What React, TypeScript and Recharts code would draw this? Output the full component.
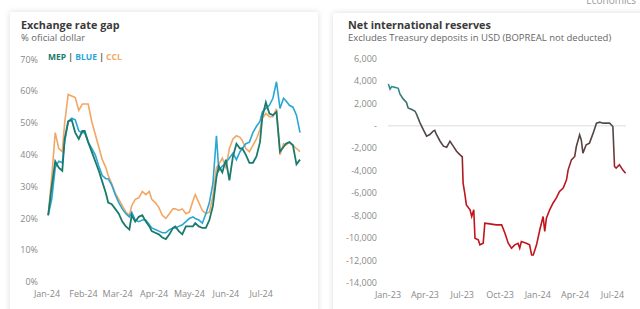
import React from "react";
import {
  LineChart,
  Line,
  XAxis,
  YAxis,
  ReferenceLine,
} from "recharts";

// exchange rate gap, days since Jan 1 2024
const gapDays = [
  1, 4, 7, 10, 13, 15, 18, 21, 24, 27, 30, 32, 35, 38, 41, 44, 47, 50, 52, 55,
  58, 61, 64, 67, 70, 72, 75, 78, 81, 84, 87, 89, 92, 95, 98, 101, 104, 107, 109, 112,
  115, 118, 121, 124, 126, 129, 132, 135, 138, 141, 144, 146, 149, 152, 155, 158, 161, 164, 166, 169,
  172, 175, 178, 181, 183, 186, 189, 192, 195, 198, 201, 203, 206, 209, 212, 215,
];
const mep = [
  21, 30, 38, 36, 35, 45, 50.5, 51, 47, 45,
  47.5, 47.5, 44, 41, 38, 35, 31.5, 28, 25, 24.5,
  23, 21.5, 19, 17.5, 16.5, 21, 19, 20.5, 21, 19,
  17.5, 16, 15.5, 15, 14, 13.5, 15, 17, 17.5, 16,
  15, 17.5, 17.5, 17.5, 18.5, 17.5, 17, 17, 19.5, 24,
  33, 36.5, 34.5, 38.5, 32, 39.5, 43.5, 42, 42, 40,
  37.5, 37.5, 39.5, 44, 52, 56.5, 53, 52.5, 53.5, 41,
  42.5, 43.5, 44, 43, 37, 38.5,
];
const blue = [
  21, 26, 36, 38, 37.5, 44, 50.5, 51.5, 51, 47.5,
  47, 47, 44, 42, 40, 36.5, 33.5, 32.5, 32.5, 30.5,
  27.5, 25, 23, 21.5, 20.5, 22, 19.5, 19, 19.5, 19.5,
  18, 17, 16.5, 16, 15.5, 15.5, 16.5, 17, 17, 17.5,
  18, 19, 20, 20.5, 20, 19.5, 18.5, 21.5, 25, 31,
  46, 35, 36.5, 37.5, 39, 40.5, 38.5, 41, 42, 43.5,
  44, 47, 49, 50.5, 53.5, 54.6, 55.6, 57.8, 63, 54.6,
  57.8, 57, 55.6, 55, 52.5, 47,
];
const ccl = [
  21, 33, 47, 42, 41, 50, 59, 58.5, 58, 54,
  56, 56, 56, 50.5, 46.5, 42.5, 38.5, 36, 33.5, 31,
  28, 26, 24, 22, 21, 24, 26, 26.5, 28.5, 27.5,
  28.5, 26, 25, 23.5, 21, 20, 21.5, 23, 23, 22.5,
  23, 21.5, 22, 25.5, 27.5, 25, 22.5, 21.5, 22, 27,
  36, 37, 39, 36, 42, 45, 46, 45.5, 44.5, 42,
  41, 43, 45, 48, 51.5, 53, 52, 52, 54.5, 40,
  43.5, 43, 44, 43, 42, 41,
];
const gapTicks = [0, 31, 60, 91, 121, 152, 182];
const gapTickLabels = ["Jan-24", "Feb-24", "Mar-24", "Apr-24", "May-24", "Jun-24", "Jul-24"];
const gapYTicks = [0, 10, 20, 30, 40, 50, 60, 70];

// net reserves, days since Jan 1 2023, USD mn
const reserveDays = [
  1, 5, 9, 17, 25, 29, 37, 45, 49, 58, 66, 70, 78, 86, 94, 102, 110, 114, 118, 127,
  135, 143, 151, 159, 167, 175, 179, 181, 183, 187, 191, 200, 204, 209, 212, 220, 224, 232, 236, 248,
  264, 277, 285, 293, 301, 309, 317, 321, 325, 337, 345, 350, 354, 362, 370, 378, 382, 386, 394, 402,
  410, 418, 427, 435, 439, 447, 455, 459, 467, 471, 475, 483, 491, 500, 508, 516, 524, 532, 540, 548,
  552, 556, 564, 572, 579,
];
const reserves = [
  3740, 3270, 3500, 3430, 3340, 2850, 2400, 2080, 1600, 1450,
  1300, 1000, 270, -330, -920, -770, -470, -400, -770, -1370,
  -1810, -1900, -1370, -1810, -2260, -2560, -2700, -2750, -5100, -6000,
  -7040, -7480, -8080, -7480, -10010, -10160, -10600, -10460, -8670, -8730,
  -8820, -8820, -9560, -10460, -10900, -10600, -10460, -10900, -10310, -10460,
  -10600, -11500, -11500, -10600, -9260, -8080, -9410, -8230, -7480, -6890,
  -6440, -5850, -5550, -4810, -3920, -3030, -2730, -1840, -800, -1250,
  -2430, -1690, -1540, -650, 240, 330, 240, 240, 240, -60,
  -3620, -3770, -3470, -3920, -4220,
];
const resTicks = [0, 90, 181, 273, 365, 456, 547];
const resTickLabels = ["Jan-23", "Apr-23", "Jul-23", "Oct-23", "Jan-24", "Apr-24", "Jul-24"];
const resYTicks = [-14000, -12000, -10000, -8000, -6000, -4000, -2000, 0, 2000, 4000, 6000];

const gapData = gapDays.map((d, i) => ({ day: d, mep: mep[i], blue: blue[i], ccl: ccl[i] }));
const resData = reserveDays.map((d, i) => ({ day: d, value: reserves[i] }));

const FONT = "'Open Sans', sans-serif";
const tickStyle = { fill: "#8a8a8a", fontSize: 9, fontFamily: FONT };

const card: React.CSSProperties = {
  position: "absolute",
  background: "#fff",
  boxShadow: "0 0 6px rgba(0,0,0,0.14)",
  borderRadius: 2,
};
const titleStyle: React.CSSProperties = {
  position: "absolute",
  top: 18,
  fontFamily: FONT,
  fontWeight: 700,
  fontSize: 10.8,
  lineHeight: "14px",
  color: "#3a3a3a",
  whiteSpace: "nowrap",
};
const subStyle: React.CSSProperties = {
  position: "absolute",
  top: 32,
  fontFamily: FONT,
  fontSize: 9.5,
  lineHeight: "12px",
  color: "#666",
  whiteSpace: "nowrap",
};

export default function App() {
  return (
    <div
      style={{
        position: "absolute",
        left: 0,
        top: 0,
        width: 640,
        height: 309,
        overflow: "hidden",
        background: "#fff",
      }}
    >
      <div style={{ position: "absolute", right: 4, top: -7, fontFamily: FONT, fontSize: 10, color: "#999" }}>
        Economics
      </div>
      <div style={{ ...card, left: 10, top: 12, width: 308, height: 320 }} />
      <div style={{ ...card, left: 333, top: 13, width: 320, height: 320 }} />

      <div style={{ ...titleStyle, left: 21 }}>Exchange rate gap</div>
      <div style={{ ...subStyle, left: 21 }}>% oficial dollar</div>
      <div
        style={{
          position: "absolute",
          left: 48,
          top: 51,
          fontFamily: FONT,
          fontWeight: 700,
          fontSize: 8.5,
          lineHeight: "12px",
          color: "#aaa",
          whiteSpace: "nowrap",
        }}
      >
        <span style={{ color: "#1a7a6c" }}>MEP</span>
        <span style={{ color: "#555" }}> | </span>
        <span style={{ color: "#2aa6d4" }}>BLUE</span>
        <span style={{ color: "#555" }}> | </span>
        <span style={{ color: "#f2a766" }}>CCL</span>
      </div>

      <div style={{ ...titleStyle, left: 348 }}>Net international reserves</div>
      <div style={{ ...subStyle, left: 348 }}>Excludes Treasury deposits in USD (BOPREAL not deducted)</div>

      <div style={{ position: "absolute", left: 0, top: 50 }}>
        <LineChart width={320} height={259} data={gapData} margin={{ top: 9.5, right: 20, bottom: 7, left: 0 }}>
          <XAxis
            dataKey="day"
            type="number"
            domain={[0, 215]}
            ticks={gapTicks}
            tickFormatter={(v) => gapTickLabels[gapTicks.indexOf(v)]}
            axisLine={false}
            tickLine={false}
            tickSize={0}
            tickMargin={9}
            height={20}
            tick={tickStyle}
            interval={0}
          />
          <YAxis
            domain={[0, 70]}
            ticks={gapYTicks}
            tickFormatter={(v) => `${v}%`}
            axisLine={false}
            tickLine={false}
            tickSize={0}
            tickMargin={9}
            width={47}
            tick={tickStyle}
            interval={0}
          />
          <Line dataKey="ccl" stroke="#f2a766" strokeWidth={1.6} dot={false} isAnimationActive={false} />
          <Line dataKey="blue" stroke="#2aa6d4" strokeWidth={1.6} dot={false} isAnimationActive={false} />
          <Line dataKey="mep" stroke="#1a7a6c" strokeWidth={1.8} dot={false} isAnimationActive={false} />
        </LineChart>
      </div>

      <div style={{ position: "absolute", left: 320, top: 50 }}>
        <LineChart width={320} height={259} data={resData} margin={{ top: 8.5, right: 14, bottom: 6, left: 0 }}>
          <defs>
            <linearGradient id="resGrad" x1="0" y1="0" x2="0" y2="1">
              <stop offset="0%" stopColor="#2a9494" />
              <stop offset="10%" stopColor="#3d7474" />
              <stop offset="24%" stopColor="#4c4c4c" />
              <stop offset="38%" stopColor="#5a4040" />
              <stop offset="50%" stopColor="#a81e24" />
              <stop offset="58%" stopColor="#c1141c" />
              <stop offset="100%" stopColor="#c1141c" />
            </linearGradient>
          </defs>
          <XAxis
            dataKey="day"
            type="number"
            domain={[0, 580]}
            ticks={resTicks}
            tickFormatter={(v) => resTickLabels[resTicks.indexOf(v)]}
            axisLine={false}
            tickLine={false}
            tickSize={0}
            tickMargin={9}
            height={20}
            tick={tickStyle}
            interval={0}
          />
          <YAxis
            domain={[-14000, 6000]}
            ticks={resYTicks}
            tickFormatter={(v) => (v === 0 ? "-" : v.toLocaleString("en-US"))}
            axisLine={false}
            tickLine={false}
            tickSize={0}
            tickMargin={11}
            width={68}
            tick={tickStyle}
            interval={0}
          />
          <ReferenceLine y={0} stroke="#dcdcdc" strokeWidth={1} />
          <Line
            dataKey="value"
            stroke="url(#resGrad)"
            strokeWidth={1.6}
            dot={false}
            isAnimationActive={false}
          />
        </LineChart>
      </div>
    </div>
  );
}
